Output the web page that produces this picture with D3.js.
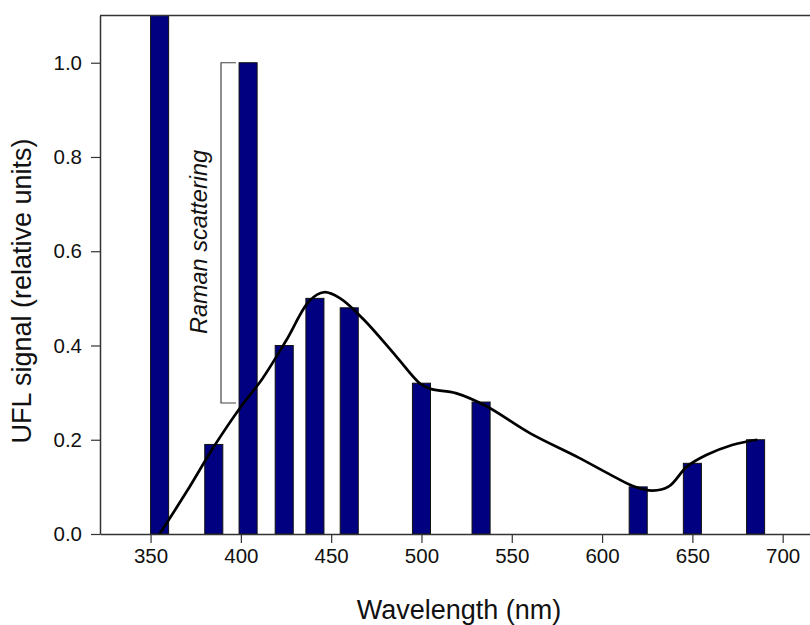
<!DOCTYPE html>
<html>
<head>
<meta charset="utf-8">
<script src="https://cdn.jsdelivr.net/npm/d3@7"></script>
<style>
  html, body { margin: 0; padding: 0; background: #fff; }
  svg { display: block; font-family: "Liberation Sans", Arial, sans-serif; }
</style>
</head>
<body>
<svg id="chart" width="810" height="625"></svg>
<script>
// Bar measurements: centre wavelength (nm) and UFL signal
const wavelengths = [355, 385, 404, 424, 441, 460, 500, 533, 620, 650, 685];
const signals     = [1.25, 0.19, 1.0, 0.40, 0.50, 0.48, 0.32, 0.28, 0.10, 0.15, 0.20];

// Smoothed emission curve (wavelength, signal)
const curveX = [355, 370, 385, 400, 412, 425, 438, 446, 455, 468, 486, 499, 505, 519, 536, 560, 587, 605, 617, 628, 637, 647, 658, 672, 686];
const curveY = [0.0, 0.09, 0.185, 0.27, 0.33, 0.41, 0.495, 0.513, 0.50, 0.455, 0.377, 0.32, 0.308, 0.299, 0.271, 0.214, 0.162, 0.125, 0.102, 0.092, 0.101, 0.143, 0.168, 0.189, 0.20];

const xTicks = [350, 400, 450, 500, 550, 600, 650, 700];
const yTicks = [0.0, 0.2, 0.4, 0.6, 0.8, 1.0];

// Raman scattering bracket spans this signal range
const ramanRange = [0.278, 1.0];
const ramanLabel = "Raman scattering";
const xTitle = "Wavelength (nm)";
const yTitle = "UFL signal (relative units)";

const barWidthNm = 10;

const svg = d3.select("#chart");

const x = d3.scaleLinear().domain([322, 720]).range([100, 818.8]);
const y = d3.scaleLinear().domain([0, 1.1]).range([534, 15.6]);

const axisColor = "#333";

// clip region for the plotting area
svg.append("defs").append("clipPath").attr("id", "plotClip")
  .append("rect")
  .attr("x", x(322)).attr("y", y(1.1))
  .attr("width", x(720) - x(322)).attr("height", y(0) - y(1.1));

const plot = svg.append("g").attr("clip-path", "url(#plotClip)");

// bars
plot.selectAll("rect.bar")
  .data(wavelengths.map((w, i) => ({ w, v: signals[i] })))
  .join("rect")
  .attr("class", "bar")
  .attr("x", d => x(d.w - barWidthNm / 2))
  .attr("width", d => x(d.w + barWidthNm / 2) - x(d.w - barWidthNm / 2))
  .attr("y", d => y(d.v))
  .attr("height", d => y(0) - y(d.v))
  .attr("fill", "#000080")
  .attr("stroke", "#111")
  .attr("stroke-width", 1);

// fitted curve
const line = d3.line()
  .x(d => x(d[0]))
  .y(d => y(d[1]))
  .curve(d3.curveCatmullRom.alpha(0.5));

plot.append("path")
  .datum(curveX.map((w, i) => [w, curveY[i]]))
  .attr("d", line)
  .attr("fill", "none")
  .attr("stroke", "#000")
  .attr("stroke-width", 2.7)
  .attr("stroke-linejoin", "round");

// Raman bracket
const bx0 = 221, bx1 = 236;
svg.append("path")
  .attr("d", `M${bx1},${y(ramanRange[1])}H${bx0}V${y(ramanRange[0])}H${bx1}`)
  .attr("fill", "none")
  .attr("stroke", "#444")
  .attr("stroke-width", 1.2);

svg.append("text")
  .attr("transform", `translate(207, 242) rotate(-90)`)
  .attr("text-anchor", "middle")
  .attr("font-size", 23.5)
  .attr("font-style", "italic")
  .attr("fill", "#111")
  .text(ramanLabel);

// axes
const xAxis = d3.axisBottom(x).tickValues(xTicks).tickSize(9).tickSizeOuter(0).tickPadding(5)
  .tickFormat(d3.format("d"));
const gx = svg.append("g").attr("transform", `translate(0, ${y(0)})`).call(xAxis);
gx.select(".domain").attr("stroke", axisColor).attr("stroke-width", 1.5);
gx.selectAll(".tick line").attr("stroke", axisColor).attr("stroke-width", 1.2);
gx.selectAll(".tick text").attr("font-size", 20.5).attr("fill", "#111")
  .attr("font-family", "Liberation Sans, Arial, sans-serif");

const yAxis = d3.axisLeft(y).tickValues(yTicks).tickSize(9).tickSizeOuter(0).tickPadding(9)
  .tickFormat(d3.format(".1f"));
const gy = svg.append("g").attr("transform", `translate(${x(322)}, 0)`).call(yAxis);
gy.select(".domain").attr("stroke", axisColor).attr("stroke-width", 1.5);
gy.selectAll(".tick line").attr("stroke", axisColor).attr("stroke-width", 1.2);
gy.selectAll(".tick text").attr("font-size", 20.5).attr("fill", "#111")
  .attr("font-family", "Liberation Sans, Arial, sans-serif");

// top frame line
svg.append("line")
  .attr("x1", x(322)).attr("x2", x(720))
  .attr("y1", y(1.1)).attr("y2", y(1.1))
  .attr("stroke", axisColor).attr("stroke-width", 1.5);

// axis titles
svg.append("text")
  .attr("x", 459).attr("y", 619)
  .attr("text-anchor", "middle")
  .attr("font-size", 27)
  .attr("fill", "#111")
  .text(xTitle);

svg.append("text")
  .attr("transform", "translate(31, 291) rotate(-90)")
  .attr("text-anchor", "middle")
  .attr("font-size", 27)
  .attr("fill", "#111")
  .text(yTitle);
</script>
</body>
</html>
